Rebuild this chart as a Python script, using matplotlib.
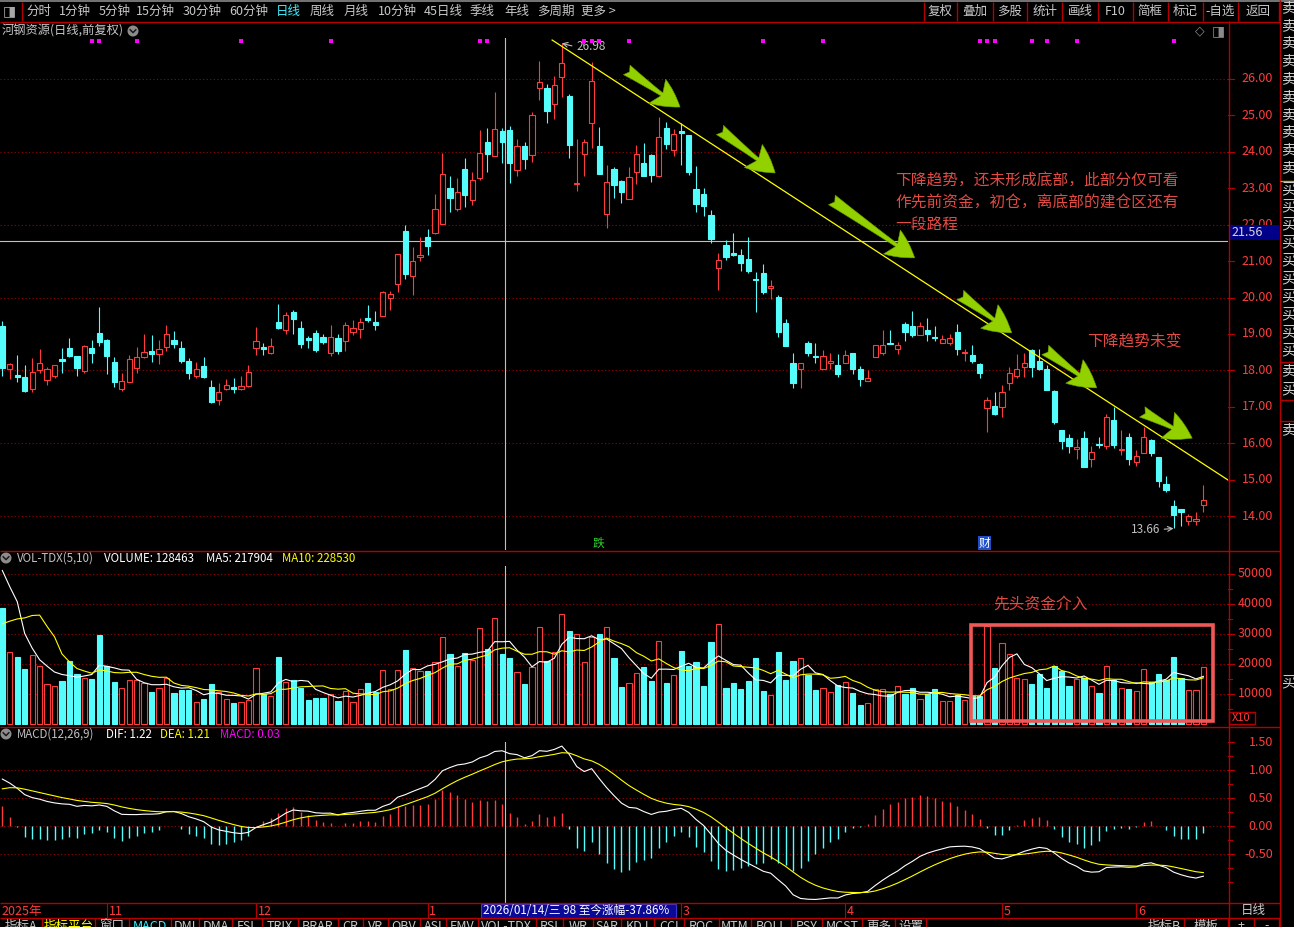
import numpy as np
import pandas as pd
import matplotlib
matplotlib.use("Agg")
import matplotlib.pyplot as plt
from matplotlib.patches import Rectangle, Circle, FancyArrowPatch

plt.rcParams['font.family'] = ['Noto Sans CJK SC', 'DejaVu Sans']

# ---------------- values ----------------
opens = [19.21, 18.05, 17.87, 17.82, 17.50, 18.01, 17.74, 17.85, 18.31, 18.61,
         18.39, 17.99, 18.61, 19.02, 18.83, 18.23, 17.50, 17.69, 18.07, 18.37,
         18.54, 18.46, 18.65, 18.83, 18.61, 18.26, 17.84, 18.12, 17.54, 17.20,
         17.49, 17.53, 17.49, 17.57, 18.62, 18.64, 18.47, 19.32, 19.11, 19.60,
         19.16, 18.89, 19.02, 18.91, 18.48, 18.89, 18.80, 19.05, 19.13, 19.43,
         19.32, 19.49, 19.99, 20.37, 21.84, 20.59, 21.10, 21.65, 21.77, 22.03,
         23.00, 22.43, 23.53, 22.68, 23.29, 24.28, 23.88, 24.57, 24.61, 23.51,
         24.17, 23.92, 25.75, 25.74, 25.32, 26.05, 25.54, 23.11, 23.95, 24.79,
         24.16, 22.28, 23.52, 23.21, 22.71, 23.45, 23.68, 23.90, 23.34, 24.66,
         24.05, 24.57, 24.47, 22.97, 22.83, 22.26, 20.81, 21.43, 21.21, 21.16,
         21.05, 20.52, 20.68, 20.25, 20.02, 19.29, 18.19, 18.05, 18.74, 18.39,
         18.05, 18.19, 18.16, 18.21, 18.49, 18.04, 17.72, 18.36, 18.48, 18.75,
         18.58, 19.27, 19.23, 18.97, 19.12, 18.91, 18.76, 18.76, 19.05, 18.47,
         18.42, 18.17, 16.98, 17.02, 16.99, 17.66, 17.84, 18.10, 18.56, 18.26,
         18.03, 17.43, 16.37, 16.14, 15.85, 16.14, 15.56, 15.97, 15.93, 16.64,
         15.80, 16.16, 15.48, 15.73, 16.09, 15.61, 14.88, 14.28, 14.19, 13.87,
         13.87, 14.30]
highs = [19.35, 18.19, 18.42, 18.15, 18.34, 18.58, 18.08, 18.16, 18.61, 18.89,
         18.39, 18.70, 18.83, 19.74, 18.86, 18.36, 17.93, 18.42, 18.64, 19.00,
         18.97, 18.83, 19.24, 19.08, 18.80, 18.33, 18.23, 18.37, 17.74, 17.65,
         17.76, 17.79, 17.84, 18.15, 19.19, 18.75, 18.89, 19.82, 19.60, 19.65,
         19.35, 18.94, 19.11, 19.00, 19.24, 19.00, 19.32, 19.38, 19.43, 19.79,
         19.63, 20.17, 20.17, 21.19, 21.98, 21.38, 21.66, 21.87, 22.83, 23.98,
         23.33, 23.28, 23.83, 23.46, 24.59, 24.66, 25.63, 24.65, 24.72, 24.35,
         24.26, 25.09, 26.50, 25.85, 26.09, 26.98, 25.59, 24.34, 24.34, 26.47,
         24.69, 23.65, 23.58, 23.23, 23.58, 24.20, 24.24, 23.93, 24.97, 24.81,
         24.63, 24.80, 24.47, 23.60, 23.00, 22.39, 21.21, 21.57, 21.78, 21.32,
         21.65, 20.69, 20.93, 20.47, 20.06, 19.41, 18.49, 18.21, 18.80, 18.74,
         18.56, 18.47, 18.45, 18.56, 18.49, 18.12, 18.01, 18.69, 19.11, 19.11,
         18.79, 19.33, 19.63, 19.32, 19.45, 19.22, 18.97, 19.01, 19.27, 18.60,
         18.69, 18.21, 17.26, 17.40, 17.60, 18.10, 18.44, 18.49, 18.60, 18.58,
         18.16, 17.46, 16.37, 16.25, 16.12, 16.34, 15.91, 16.16, 16.79, 16.99,
         16.37, 16.27, 15.82, 16.44, 16.12, 15.63, 15.09, 14.45, 14.19, 14.06,
         14.10, 14.86]
lows = [17.85, 17.76, 17.69, 17.41, 17.41, 17.94, 17.60, 17.80, 17.94, 18.37,
        17.85, 17.94, 18.20, 18.68, 17.91, 17.54, 17.42, 17.69, 17.94, 18.33,
        18.23, 18.18, 18.54, 18.62, 18.20, 17.76, 17.80, 17.80, 17.10, 17.05,
        17.46, 17.38, 17.46, 17.54, 18.42, 18.42, 18.45, 19.13, 19.00, 19.00,
        18.61, 18.61, 18.50, 18.72, 18.39, 18.45, 18.53, 18.97, 18.89, 19.32,
        19.11, 19.49, 19.65, 20.15, 20.51, 20.07, 21.00, 21.17, 21.75, 22.01,
        22.35, 22.37, 22.48, 22.54, 23.23, 23.44, 23.88, 23.69, 23.14, 23.33,
        23.53, 23.72, 25.41, 24.79, 24.89, 25.50, 23.83, 22.92, 23.33, 24.11,
        23.40, 21.91, 22.74, 22.59, 22.70, 23.11, 23.34, 23.18, 23.32, 24.08,
        23.88, 23.63, 23.36, 22.35, 22.25, 21.51, 20.20, 21.04, 21.13, 20.74,
        20.66, 19.61, 20.11, 19.96, 18.92, 18.68, 17.51, 17.51, 18.39, 18.21,
        18.03, 18.03, 17.81, 18.19, 17.89, 17.58, 17.70, 18.36, 18.42, 18.72,
        18.44, 18.81, 18.92, 18.97, 18.81, 18.81, 18.74, 18.69, 18.42, 18.26,
        18.21, 17.78, 16.32, 16.78, 16.73, 17.46, 17.78, 17.83, 17.83, 18.01,
        17.46, 16.53, 15.84, 15.74, 15.56, 15.34, 15.36, 15.86, 15.84, 15.86,
        15.68, 15.41, 15.38, 15.73, 15.65, 14.81, 14.65, 13.66, 13.72, 13.76,
        13.76, 14.10]
closes = [18.07, 18.17, 17.83, 17.43, 17.95, 18.19, 18.03, 18.16, 18.26, 18.39,
          18.07, 18.67, 18.48, 18.79, 18.39, 17.69, 17.71, 18.31, 18.37, 18.50,
          18.46, 18.58, 19.00, 18.73, 18.26, 17.93, 18.03, 17.82, 17.13, 17.40,
          17.59, 17.49, 17.56, 17.95, 18.80, 18.58, 18.67, 19.16, 19.52, 19.41,
          18.72, 18.83, 18.56, 18.78, 18.91, 18.53, 19.24, 19.16, 19.32, 19.38,
          19.24, 20.15, 20.09, 21.19, 20.65, 21.01, 21.18, 21.42, 22.42, 23.38,
          22.73, 22.89, 22.81, 23.24, 23.98, 23.94, 24.63, 24.26, 23.69, 24.16,
          23.80, 25.02, 25.92, 25.11, 25.84, 26.44, 24.18, 23.14, 24.28, 25.95,
          23.40, 23.18, 23.09, 22.90, 23.32, 23.95, 23.34, 23.36, 24.41, 24.21,
          24.49, 24.52, 23.44, 22.57, 22.51, 21.60, 21.02, 21.11, 21.18, 20.94,
          20.73, 20.49, 20.14, 20.31, 19.06, 18.68, 17.64, 18.19, 18.48, 18.37,
          18.39, 18.26, 17.91, 18.42, 18.05, 17.76, 17.80, 18.69, 18.71, 18.72,
          18.69, 19.04, 18.97, 19.22, 19.00, 18.88, 18.85, 18.90, 18.60, 18.51,
          18.26, 17.94, 17.19, 16.80, 17.40, 17.94, 18.05, 18.19, 18.10, 18.05,
          17.46, 16.58, 16.05, 15.93, 15.89, 15.34, 15.75, 15.94, 16.71, 15.95,
          15.84, 15.56, 15.65, 16.16, 15.73, 14.95, 14.72, 14.02, 14.11, 13.99,
          13.93, 14.44]
# volume in the units of the X10 axis
volumes = [38600, 23800, 22200, 18300, 22800, 19200, 13100, 12400, 14200, 20800,
           16600, 15200, 14900, 29600, 19100, 13900, 11900, 14400, 14400, 13400,
           10600, 11800, 15200, 10200, 11200, 11200, 7100, 8200, 13200, 10400,
           8200, 6900, 7200, 8000, 18400, 9900, 9200, 22200, 13800, 14600,
           12000, 7900, 8600, 8600, 10000, 7600, 10800, 7100, 11400, 13600,
           10400, 17800, 11400, 17800, 24600, 18400, 17600, 17600, 20400, 28800,
           23200, 19100, 23400, 21200, 31800, 24900, 35100, 23200, 21900, 17100,
           13200, 19000, 32100, 20700, 23800, 36400, 30900, 29800, 20400, 28700,
           29900, 32100, 21900, 12300, 13400, 16700, 18800, 14200, 27400, 13500,
           16100, 24200, 19200, 20500, 12500, 27200, 33200, 11800, 13500, 11500,
           14200, 21800, 10800, 9500, 23800, 14500, 20800, 21700, 16200, 11200,
           11800, 10500, 12800, 13700, 10200, 6200, 6700, 11400, 11400, 9800,
           12500, 9800, 11800, 8200, 9800, 11500, 7500, 7500, 9500, 7800,
           9200, 9200, 32500, 18500, 26700, 23200, 15200, 14800, 13200, 16500,
           11800, 19200, 17400, 12500, 14900, 15200, 12500, 10200, 19200, 14500,
           11800, 11500, 10700, 18200, 13800, 16500, 14500, 22200, 15200, 11200,
           11200, 18700]
# bars just left of the window, implied by where the MA5/MA10 lines start
vol_before = [14800, 14800, 14800, 14800, 17900, 50800, 47200, 71300, 47100]
# EMA12, EMA26 and DEA just before the first bar (DIF ~0.9, DEA ~0.6 at the left edge)
macd_seed = (18.35, 17.42, 0.62)

month_pos = [0, 14, 34, 57, 91, 113, 134, 152]
month_txt = ['2025年', '11', '12', '1', '3', '4', '5', '6']
mine_pos = [12, 13, 18, 32, 44, 64, 65, 78, 79, 80, 84, 102, 110, 131, 132, 133, 138, 140, 144, 157]
price_ticks = [26, 25, 24, 23, 22, 21, 20, 19, 18, 17, 16, 15, 14]
vol_ticks = [50000, 40000, 30000, 20000, 10000]
macd_ticks = [1.5, 1.0, 0.5, 0.0, -0.5]
cross_idx, cross_price = 67.4, 21.56
high_idx, high_val = 75, 26.98
low_idx, low_val = 157, 13.66
trend_x, trend_y = [73.7, 164.3], [27.07, 14.99]
arrows = [(83.7, 26.25, 90.85, 25.23), (96.2, 24.60, 103.6, 23.42),
          (111.2, 22.68, 122.3, 21.09), (128.4, 20.07, 135.3, 19.03),
          (139.8, 18.56, 146.7, 17.52), (152.8, 16.86, 159.5, 16.14)]
note_lines = ['下降趋势，还未形成底部，此部分仅可看',
              '作先前资金，初仓，离底部的建仓区还有',
              '一段路程']

# ---------------- colours ----------------
RED = '#ff3c3c'
CYAN = '#54fcfc'
GRID = '#a00000'
BORDER = '#b40000'
GREY = '#c0c0c0'
YEL = '#ffff00'
NOTE = '#e24a44'

W, H = 1294, 927
fig = plt.figure(figsize=(W / 100, H / 100), dpi=100, facecolor='black')


def box(x0, y0, x1, y1):
    return [x0 / W, 1 - y1 / H, (x1 - x0) / W, (y1 - y0) / H]


n = len(closes)
x = np.arange(n)
o, c = np.array(opens), np.array(closes)
hi, lo = np.array(highs), np.array(lows)
up = c >= o
edge = [RED if u else CYAN for u in up]
face = ['black' if u else CYAN for u in up]

ax_p = fig.add_axes(box(0, 22, 1228, 550))
ax_v = fig.add_axes(box(0, 551, 1228, 725))
ax_m = fig.add_axes(box(0, 727, 1228, 903))
ax_d = fig.add_axes(box(0, 903, 1228, 918))
for a in (ax_p, ax_v, ax_m, ax_d):
    a.set_xlim(-0.31, 164.3)
    a.set_axis_off()
ax_p.set_ylim(13.068, 27.565)
ax_v.set_ylim(-500, 57500)
ax_m.set_ylim(-1.375, 1.768)
ax_d.set_ylim(0, 1)

dots = (0, (1, 2.2))

# ---- price panel ----
for v in range(14, 27, 2):
    ax_p.axhline(v, color=GRID, lw=0.8, ls=dots, zorder=0)
ax_p.vlines(x, lo, hi, colors=edge, lw=0.8, zorder=2)
ax_p.bar(x, np.maximum(np.abs(c - o), 0.025), bottom=np.minimum(o, c), width=0.7,
         color=face, edgecolor=edge, linewidth=0.8, zorder=3)
ax_p.scatter(mine_pos, [27.05] * len(mine_pos), marker='s', s=6, color='#ff00ff', lw=0, zorder=4)
ax_p.axhline(cross_price, color=GREY, lw=0.8, zorder=1)
ax_p.axvline(cross_idx, ymax=(550 - 38) / 528, color=GREY, lw=0.8, zorder=1)
ax_p.plot(trend_x, trend_y, color=YEL, lw=0.9, zorder=5)
for x0, y0, x1, y1 in arrows:
    ax_p.add_patch(FancyArrowPatch((x0, y0), (x1, y1),
                                   arrowstyle='fancy,head_length=0.95,head_width=1.0,tail_width=0.4',
                                   mutation_scale=21, shrinkA=0, shrinkB=0,
                                   fc='#93d000', ec='#6a9e00', lw=0.4, zorder=6))
for txt, py in zip(note_lines, [23.20, 22.60, 22.02]):
    ax_p.text(119.66, py, txt, color=NOTE, fontsize=11.3, va='center', ha='left', zorder=7)
ax_p.text(145.4, 18.78, '下降趋势未变', color=NOTE, fontsize=11.3, va='center', ha='left', zorder=7)
ax_p.annotate(f'{high_val:.2f}', xy=(high_idx, high_val), xytext=(76.9, 26.88),
              color=GREY, fontsize=8.5, va='center', ha='left',
              arrowprops=dict(arrowstyle='->', color=GREY, lw=0.8, relpos=(0, 0.5),
                              shrinkA=1, shrinkB=0))
ax_p.annotate(f'{low_val:.2f}', xy=(low_idx, low_val), xytext=(155.2, 13.63),
              color=GREY, fontsize=8.5, va='center', ha='right',
              arrowprops=dict(arrowstyle='->', color=GREY, lw=0.8, relpos=(1, 0.5),
                              shrinkA=1, shrinkB=0))
ax_p.text(79.85, 13.26, '跌', color='#30d030', fontsize=8.5, ha='center', va='center')
ax_p.text(131.7, 13.26, '财', color='white', fontsize=8.5, ha='center', va='center',
          bbox=dict(boxstyle='square,pad=0.05', fc='#1e4fc8', ec='none'))

# ---- volume panel ----
for v in vol_ticks:
    ax_v.axhline(v, color=GRID, lw=0.8, ls=dots, zorder=0)
ax_v.bar(x, volumes, width=0.7, color=face, edgecolor=edge, linewidth=0.8, zorder=2)
allvol = pd.Series(vol_before + volumes, dtype=float)
ma5 = allvol.rolling(5).mean().to_numpy()[len(vol_before):]
ma10 = allvol.rolling(10).mean().to_numpy()[len(vol_before):]
ax_v.plot(x, ma5, color='white', lw=0.8, zorder=3)
ax_v.plot(x, ma10, color=YEL, lw=0.8, zorder=3)
ax_v.axvline(cross_idx, ymax=(725 - 566) / 174, color=GREY, lw=0.8, zorder=1)
ax_v.add_patch(Rectangle((129.85, 833), 32.45, 32000, fill=False, ec='#f05858', lw=2.6, zorder=5))
ax_v.text(132.8, 39800, '先头资金介入', color=NOTE, fontsize=11.3, va='center', ha='left')


# ---- MACD panel ----
def ema(values, span, start):
    k = 2 / (span + 1)
    out, e = [], start
    for v in values:
        e += k * (v - e)
        out.append(e)
    return np.array(out)


dif = ema(c, 12, macd_seed[0]) - ema(c, 26, macd_seed[1])
dea = ema(dif, 9, macd_seed[2])
hist = 2 * (dif - dea)
for v in [1.0, 0.5, 0.0, -0.5]:
    ax_m.axhline(v, color=GRID, lw=0.8, ls=dots, zorder=0)
ax_m.vlines(x, 0, hist, colors=[RED if h >= 0 else CYAN for h in hist], lw=1.0, zorder=2)
ax_m.plot(x, dif, color='white', lw=0.8, zorder=3)
ax_m.plot(x, dea, color=YEL, lw=0.8, zorder=3)
ax_m.axvline(cross_idx, ymax=(903 - 742) / 176, color=GREY, lw=0.8, zorder=1)


# ---- right-hand scales ----
def right_scale(ax, values, fmt, minor=()):
    tr = ax.get_yaxis_transform()
    for v in values:
        ax.text(1.0366, v, fmt.format(v), transform=tr, ha='right', va='center',
                color=RED, fontsize=9)
        ax.plot([1.0, 1.0045], [v, v], transform=tr, color=BORDER, lw=0.8, clip_on=False)
    for v in minor:
        ax.plot([1.0, 1.003], [v, v], transform=tr, color=BORDER, lw=0.8, clip_on=False)


right_scale(ax_p, price_ticks, '{:.2f}')
right_scale(ax_v, vol_ticks, '{:d}', minor=[5000, 15000, 25000, 35000, 45000])
right_scale(ax_m, macd_ticks, '{:.2f}', minor=[1.25, 0.75, 0.25, -0.25, -0.75, -1.0])

# ---- date row ----
for pos, txt in zip(month_pos, month_txt):
    if pos > 0:
        ax_d.vlines(pos, 0, 1, color=BORDER, lw=0.8)
        ax_d.text(pos + 0.25, 0.45, txt, color=RED, fontsize=9, va='center', ha='left')
    else:
        ax_d.text(pos - 0.05, 0.45, txt, color=RED, fontsize=9, va='center', ha='left')

# ---------------- screen furniture (pixel coordinates) ----------------
ov = fig.add_axes([0, 0, 1, 1], zorder=10)
ov.set_xlim(0, W)
ov.set_ylim(H, 0)
ov.set_axis_off()


def hline(y, x0, x1, col=BORDER, lw=1.0):
    ov.plot([x0, x1], [y, y], color=col, lw=lw, solid_capstyle='butt')


def vline(xp, y0, y1, col=BORDER, lw=1.0):
    ov.plot([xp, xp], [y0, y1], color=col, lw=lw, solid_capstyle='butt')


hline(0.8, 0, W, col='#8a8a8a', lw=1.2)
hline(21.5, 0, 1280)
hline(550.5, 0, 1280)
hline(726.5, 0, 1280)
hline(902.5, 0, 1280)
hline(918.0, 0, 1280)
vline(1228.5, 21, 927)
vline(1279.5, 0, 927)
vline(22, 2, 21)

# top toolbar
ov.text(9, 11, '◨', color='#a8a8a8', fontsize=10, ha='center', va='center', family='DejaVu Sans')
bar_items = [('分时', 38.5), ('1分钟', 75), ('5分钟', 115), ('15分钟', 155.6), ('30分钟', 202.5),
             ('60分钟', 249), ('日线', 288.8), ('周线', 322), ('月线', 356), ('10分钟', 397),
             ('45日线', 443), ('季线', 482.4), ('年线', 516.5), ('多周期', 555.6), ('更多 >', 598.7)]
for txt, xc in bar_items:
    ov.text(xc, 11, txt, color='#3cf0ff' if txt == '日线' else '#c8c8c8', fontsize=9,
            ha='center', va='center')
btn_edges = [923.5, 957.2, 992.5, 1027.4, 1062.3, 1097.6, 1132.6, 1167.5, 1202.8, 1237.7, 1279.2]
btn_names = ['复权', '叠加', '多股', '统计', '画线', 'F10', '简框', '标记', '-自选', '返回']
for xe in btn_edges:
    vline(xe, 2, 21)
for name, a, b in zip(btn_names, btn_edges[:-1], btn_edges[1:]):
    ov.text((a + b) / 2, 11, name, color='#c8c8c8', fontsize=9, ha='center', va='center')

# price panel title
ov.text(2, 31, '河钢资源(日线,前复权)', color='#c8c8c8', fontsize=8.8, ha='left', va='center')


def chevron(xc, yc):
    ov.add_patch(Circle((xc, yc), 5.5, fc='#8c8c8c', ec='none'))
    ov.plot([xc - 2.8, xc, xc + 2.8], [yc - 1.2, yc + 1.6, yc - 1.2], color='#1a1a1a', lw=1.1)


chevron(133, 31)
ov.text(1200, 31, '◇', color='#8a8a8a', fontsize=9, ha='center', va='center', family='DejaVu Sans')
ov.text(1218, 31, '◨', color='#8a8a8a', fontsize=10, ha='center', va='center', family='DejaVu Sans')

# crosshair price tag (covers most of the 22.00 label, as on screen)
ov.add_patch(Rectangle((1229, 225), 50, 15, fc='#000088', ec='none'))
ov.text(1231, 232.5, f'{cross_price:.2f}', color='#d8d8d8', fontsize=9, ha='left', va='center')

# volume title
chevron(6, 558)
ov.text(17, 558, 'VOL-TDX(5,10)', color='#c0c0c0', fontsize=8.3, ha='left', va='center')
ov.text(104, 558, 'VOLUME: 128463', color='white', fontsize=8.3, ha='left', va='center')
ov.text(206, 558, 'MA5: 217904', color='white', fontsize=8.3, ha='left', va='center')
ov.text(282, 558, 'MA10: 228530', color=YEL, fontsize=8.3, ha='left', va='center')
ov.add_patch(Rectangle((1229, 711.5), 25.5, 12.5, fill=False, ec=BORDER, lw=1))
ov.text(1241.5, 718, 'X10', color=RED, fontsize=8, ha='center', va='center')

# MACD title
chevron(6, 734)
ov.text(17, 734, 'MACD(12,26,9)', color='#c0c0c0', fontsize=8.3, ha='left', va='center')
ov.text(106, 734, 'DIF: 1.22', color='white', fontsize=8.3, ha='left', va='center')
ov.text(160, 734, 'DEA: 1.21', color=YEL, fontsize=8.3, ha='left', va='center')
ov.text(220, 734, 'MACD: 0.03', color='#ff00ff', fontsize=8.3, ha='left', va='center')

# date info tag and period label
ov.add_patch(Rectangle((481, 903.5), 195, 14, fc='#0a0a96', ec='#3a3ac8', lw=0.8))
ov.text(483, 910.5, '2026/01/14/三 98 至今涨幅-37.86%', color='white', fontsize=8.4,
        ha='left', va='center')
ov.text(1253, 910.5, '日线', color='#c8c8c8', fontsize=9, ha='center', va='center')

# bottom tab row (cut by the window edge, as on screen)
tabs = [('指标A', 0, 41.5), ('指标平台', 41.5, 95.4), ('窗口', 95.4, 128.5), ('MACD', 128.5, 170.8),
        ('DMI', 170.8, 199), ('DMA', 199, 232), ('FSL', 232, 262), ('TRIX', 262, 297.7),
        ('BRAR', 297.7, 337.9), ('CR', 337.9, 363.2), ('VR', 363.2, 387.6), ('OBV', 387.6, 420),
        ('ASI', 420, 445.7), ('EMV', 445.7, 477.6), ('VOL-TDX', 477.6, 536), ('RSI', 536, 563),
        ('WR', 563, 592.5), ('SAR', 592.5, 620.6), ('KDJ', 620.6, 654), ('CCI', 654, 683.7),
        ('ROC', 683.7, 718.6), ('MTM', 718.6, 751.4), ('BOLL', 751.4, 790.9), ('PSY', 790.9, 821.7),
        ('MCST', 821.7, 862.3), ('更多', 862.3, 895.2), ('设置', 895.2, 926),
        ('指标B', 1144, 1184), ('模板', 1184, 1228), ('+', 1228, 1254), ('-', 1254, 1279)]
for name, a, b in tabs:
    col = YEL if name == '指标平台' else ('#3cf0ff' if name == 'MACD' else '#c8c8c8')
    ov.text((a + b) / 2, 919.5, name, color=col, fontsize=9, ha='center', va='top')
    vline(b, 918, 927)

# right-hand trade column
side = [(y, '卖') for y in [8, 26, 43, 61, 79, 97, 115, 132, 150, 168]]
side += [(y, '买') for y in [189, 206, 224, 242, 260, 278, 296, 314, 332, 350]]
side += [(371, '卖'), (389, '买'), (430, '卖'), (682, '买')]
for yc, ch in side:
    ov.text(1281, yc, ch, color='#d0d0d0', fontsize=10.5, ha='left', va='center')
hline(180.5, 1280, W, col='#e0a000')
hline(361.5, 1280, W)
hline(399.5, 1280, W)
hline(421, 1280, W)

fig.savefig('out.png', dpi=100, facecolor='black')
